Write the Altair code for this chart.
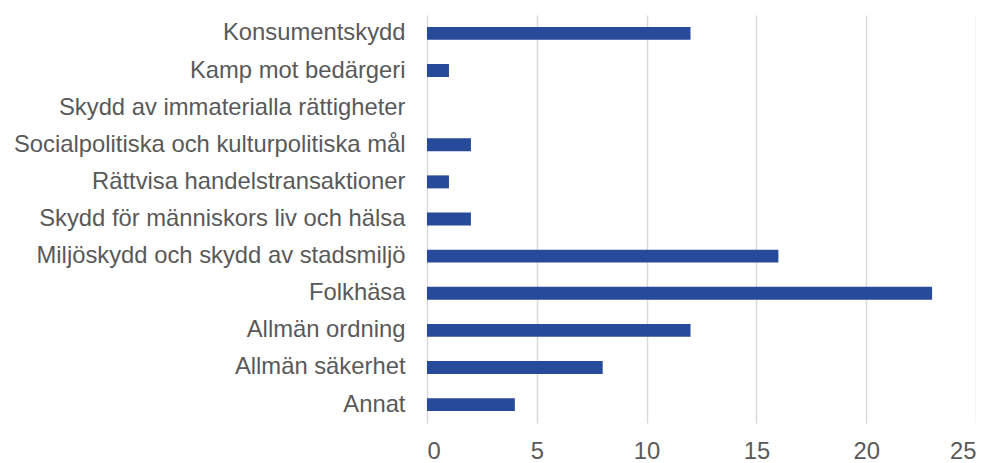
import altair as alt
import pandas as pd

categories = [
    "Konsumentskydd",
    "Kamp mot bedärgeri",
    "Skydd av immaterialla rättigheter",
    "Socialpolitiska och kulturpolitiska mål",
    "Rättvisa handelstransaktioner",
    "Skydd för människors liv och hälsa",
    "Miljöskydd och skydd av stadsmiljö",
    "Folkhäsa",
    "Allmän ordning",
    "Allmän säkerhet",
    "Annat",
]
values = [12, 1, 0, 2, 1, 2, 16, 23, 12, 8, 4]
x_ticks = [0, 5, 10, 15, 20, 25]

df = pd.DataFrame({"category": categories, "value": values})

chart = (
    alt.Chart(df)
    .mark_bar(color="#284A9A")
    .encode(
        x=alt.X(
            "value:Q",
            scale=alt.Scale(domain=[0, 25], nice=False),
            axis=alt.Axis(
                values=x_ticks,
                title=None,
                domain=False,
                ticks=False,
                grid=True,
                gridColor="#D9D9D9",
                gridWidth=1.5,
                labelFont="Liberation Sans",
                labelFontSize=23.8,
                labelColor="#595959",
                labelPadding=16,
            ),
        ),
        y=alt.Y(
            "category:N",
            sort=categories,
            scale=alt.Scale(paddingInner=0.65, paddingOuter=0.32),
            axis=alt.Axis(
                title=None,
                domain=False,
                ticks=False,
                labelFont="Liberation Sans",
                labelFontSize=23.8,
                labelColor="#595959",
                labelPadding=22,
                labelLimit=0,
            ),
        ),
    )
    .properties(
        width=549,
        height=408,
        background="white",
        autosize=alt.AutoSizeParams(type="none"),
        padding={"left": 419, "top": 7, "right": 0, "bottom": 40},
    )
    .configure_view(stroke=None)
)

chart.save("out.html", embed_options={"renderer": "svg", "actions": False})
